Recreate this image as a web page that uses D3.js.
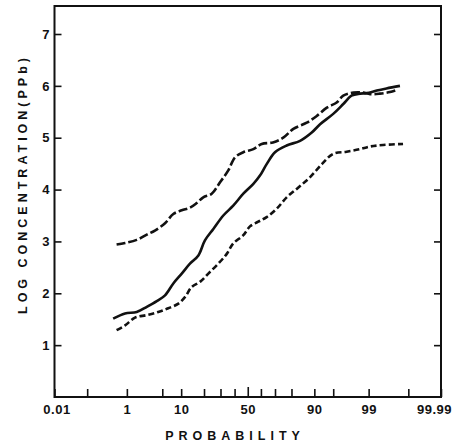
<!DOCTYPE html>
<html>
<head>
<meta charset="utf-8">
<script src="https://cdn.jsdelivr.net/npm/d3@7"></script>
<style>
	body { margin: 0; background: #fff; }
	text { font-family: "Liberation Sans", Arial, sans-serif; font-weight: bold; fill: #111; }
</style>
</head>
<body>
<div></div>
<script>
const width = 468;
const height = 444;

// x ticks (percent); labelled ones listed separately
const prob_ticks = [0.01, 0.1, 1, 5, 10, 20, 30, 40, 50, 60, 70, 80, 90, 95, 99, 99.9, 99.99];
const prob_labels = [0.01, 1, 10, 50, 90, 99, 99.99];
const conc_ticks = [1, 2, 3, 4, 5, 6, 7];

// solid line
const solid_prob = [0.48, 0.91, 1.63, 2.6, 4.0, 5.57, 7.6, 10.2, 13.3, 17.1, 20.5, 25.4, 31.9, 39.0, 46.6, 54.3, 59.3, 64.2, 70.0, 77.3, 84.3, 89.1, 91.8, 95.0, 96.7, 97.7, 98.46, 98.9, 99.35, 99.62, 99.83];
const solid_conc = [1.51, 1.61, 1.64, 1.74, 1.85, 1.96, 2.19, 2.38, 2.57, 2.73, 3.02, 3.24, 3.5, 3.69, 3.92, 4.11, 4.27, 4.49, 4.72, 4.85, 4.94, 5.1, 5.26, 5.46, 5.65, 5.81, 5.85, 5.86, 5.91, 5.95, 6.0];

// upper, long dashes
const upper_prob = [0.58, 0.91, 1.63, 2.6, 3.7, 5.57, 7.6, 10.2, 13.3, 16.3, 19.6, 24.4, 29.7, 35.4, 40.3, 46.6, 54.3, 60.6, 68.6, 75.3, 81.0, 87.2, 90.8, 93.6, 95.65, 96.7, 97.9, 98.69, 99.07, 99.45, 99.69, 99.81];
const upper_conc = [2.94, 2.97, 3.03, 3.13, 3.21, 3.35, 3.53, 3.6, 3.65, 3.74, 3.85, 3.92, 4.14, 4.37, 4.62, 4.72, 4.78, 4.88, 4.91, 5.0, 5.17, 5.29, 5.42, 5.58, 5.68, 5.81, 5.87, 5.87, 5.84, 5.85, 5.88, 5.93];

// lower, short dashes
const lower_prob = [0.58, 0.91, 1.5, 2.6, 4.26, 6.3, 9.1, 11.4, 14.0, 17.9, 22.4, 28.5, 34.3, 39.0, 46.6, 51.7, 58.0, 64.2, 71.1, 77.3, 83.5, 88.5, 92.3, 95.0, 97.15, 98.46, 99.07, 99.54, 99.86];
const lower_conc = [1.29, 1.38, 1.53, 1.58, 1.64, 1.71, 1.8, 1.93, 2.12, 2.22, 2.38, 2.57, 2.76, 2.96, 3.12, 3.29, 3.38, 3.47, 3.63, 3.85, 4.04, 4.24, 4.49, 4.69, 4.73, 4.78, 4.83, 4.86, 4.88];

// inverse normal cdf (Acklam)
function probit(p) {
	var a = [-39.69683028665376, 220.9460984245205, -275.9285104469687, 138.3577518672690, -30.66479806614716, 2.506628277459239];
	var b = [-54.47609879822406, 161.5858368580409, -155.6989798598866, 66.80131188771972, -13.28068155288572];
	var c = [-0.007784894002430293, -0.3223964580411365, -2.400758277161838, -2.549732539343734, 4.374664141464968, 2.938163982698783];
	var d = [0.007784695709041462, 0.3224671290700398, 2.445134137142996, 3.754408661907416];
	var q, r;
	if (p < 0.02425) {
		q = Math.sqrt(-2 * Math.log(p));
		return (((((c[0] * q + c[1]) * q + c[2]) * q + c[3]) * q + c[4]) * q + c[5]) /
			((((d[0] * q + d[1]) * q + d[2]) * q + d[3]) * q + 1);
	}
	if (p > 1 - 0.02425) {
		q = Math.sqrt(-2 * Math.log(1 - p));
		return -(((((c[0] * q + c[1]) * q + c[2]) * q + c[3]) * q + c[4]) * q + c[5]) /
			((((d[0] * q + d[1]) * q + d[2]) * q + d[3]) * q + 1);
	}
	q = p - 0.5;
	r = q * q;
	return (((((a[0] * r + a[1]) * r + a[2]) * r + a[3]) * r + a[4]) * r + a[5]) * q /
		(((((b[0] * r + b[1]) * r + b[2]) * r + b[3]) * r + b[4]) * r + 1);
}

const plot_left = 54.5, plot_right = 441, plot_top = 6, plot_bottom = 397;

var x = d3.scaleLinear()
	.domain([probit(0.0001), probit(0.9999)])
	.range([plot_left, plot_right]);

var y = d3.scaleLinear()
	.domain([0, 7.54])
	.range([plot_bottom, plot_top]);

function px(p) { return x(probit(p / 100)); }

var svg = d3.select("div")
	.append("svg")
	.attr("width", width)
	.attr("height", height);

// frame
svg.append("rect")
	.attr("x", plot_left)
	.attr("y", plot_top)
	.attr("width", plot_right - plot_left)
	.attr("height", plot_bottom - plot_top)
	.attr("fill", "none")
	.attr("stroke", "#111")
	.attr("stroke-width", 2);

// x axis
var x_axis = svg.append("g")
	.attr("transform", "translate(0," + plot_bottom + ")")
	.call(d3.axisBottom(x)
		.tickValues(prob_ticks.map(function (p) { return probit(p / 100); }))
		.tickSize(-8)
		.tickPadding(8)
		.tickFormat(function (z, i) {
			var p = prob_ticks[i];
			return prob_labels.indexOf(p) >= 0 ? String(p) : "";
		}));
x_axis.select(".domain").remove();
x_axis.selectAll("line").attr("stroke", "#111").attr("stroke-width", 1.6);
x_axis.selectAll(".tick").filter(function (z, i) { return prob_ticks[i] === 50; })
	.select("line").attr("y2", -10);
x_axis.selectAll("text")
	.style("font-size", "13px")
	.style("letter-spacing", "0.5px")
	.attr("dx", function (z, i) {
		var p = prob_ticks[i];
		if (p === 0.01) return 2;
		if (p === 99.99) return -7;
		return 0;
	});

// y axis, left and right with inward ticks
var y_axis = svg.append("g")
	.attr("transform", "translate(" + plot_left + ",0)")
	.call(d3.axisLeft(y)
		.tickValues(conc_ticks)
		.tickSize(-7)
		.tickPadding(5)
		.tickFormat(d3.format("d")));
y_axis.select(".domain").remove();
y_axis.selectAll("line").attr("stroke", "#111").attr("stroke-width", 1.6);
y_axis.selectAll("text").style("font-size", "13px");

var y_right = svg.append("g")
	.attr("transform", "translate(" + plot_right + ",0)")
	.call(d3.axisRight(y)
		.tickValues(conc_ticks)
		.tickSize(-7)
		.tickFormat(""));
y_right.select(".domain").remove();
y_right.selectAll("line").attr("stroke", "#111").attr("stroke-width", 1.6);

// titles
svg.append("text")
	.attr("x", 235)
	.attr("y", 440)
	.attr("text-anchor", "middle")
	.style("font-size", "12.5px")
	.style("letter-spacing", "5px")
	.text("PROBABILITY");

svg.append("text")
	.attr("transform", "translate(27,184) rotate(-90)")
	.attr("text-anchor", "middle")
	.style("font-size", "12.5px")
	.style("letter-spacing", "4px")
	.text("LOG CONCENTRATION(PPb)");

// curves
var line = d3.line()
	.x(function (d) { return px(d[0]); })
	.y(function (d) { return y(d[1]); })
	.curve(d3.curveCatmullRom);

var series = [
	{ prob: solid_prob, conc: solid_conc, dash: null },
	{ prob: upper_prob, conc: upper_conc, dash: "9,3" },
	{ prob: lower_prob, conc: lower_conc, dash: "6,3" }
];

series.forEach(function (s) {
	svg.append("path")
		.datum(s.prob.map(function (p, i) { return [p, s.conc[i]]; }))
		.attr("d", line)
		.attr("fill", "none")
		.attr("stroke", "#111")
		.attr("stroke-width", 2.6)
		.attr("stroke-dasharray", s.dash);
});
</script>
</body>
</html>
